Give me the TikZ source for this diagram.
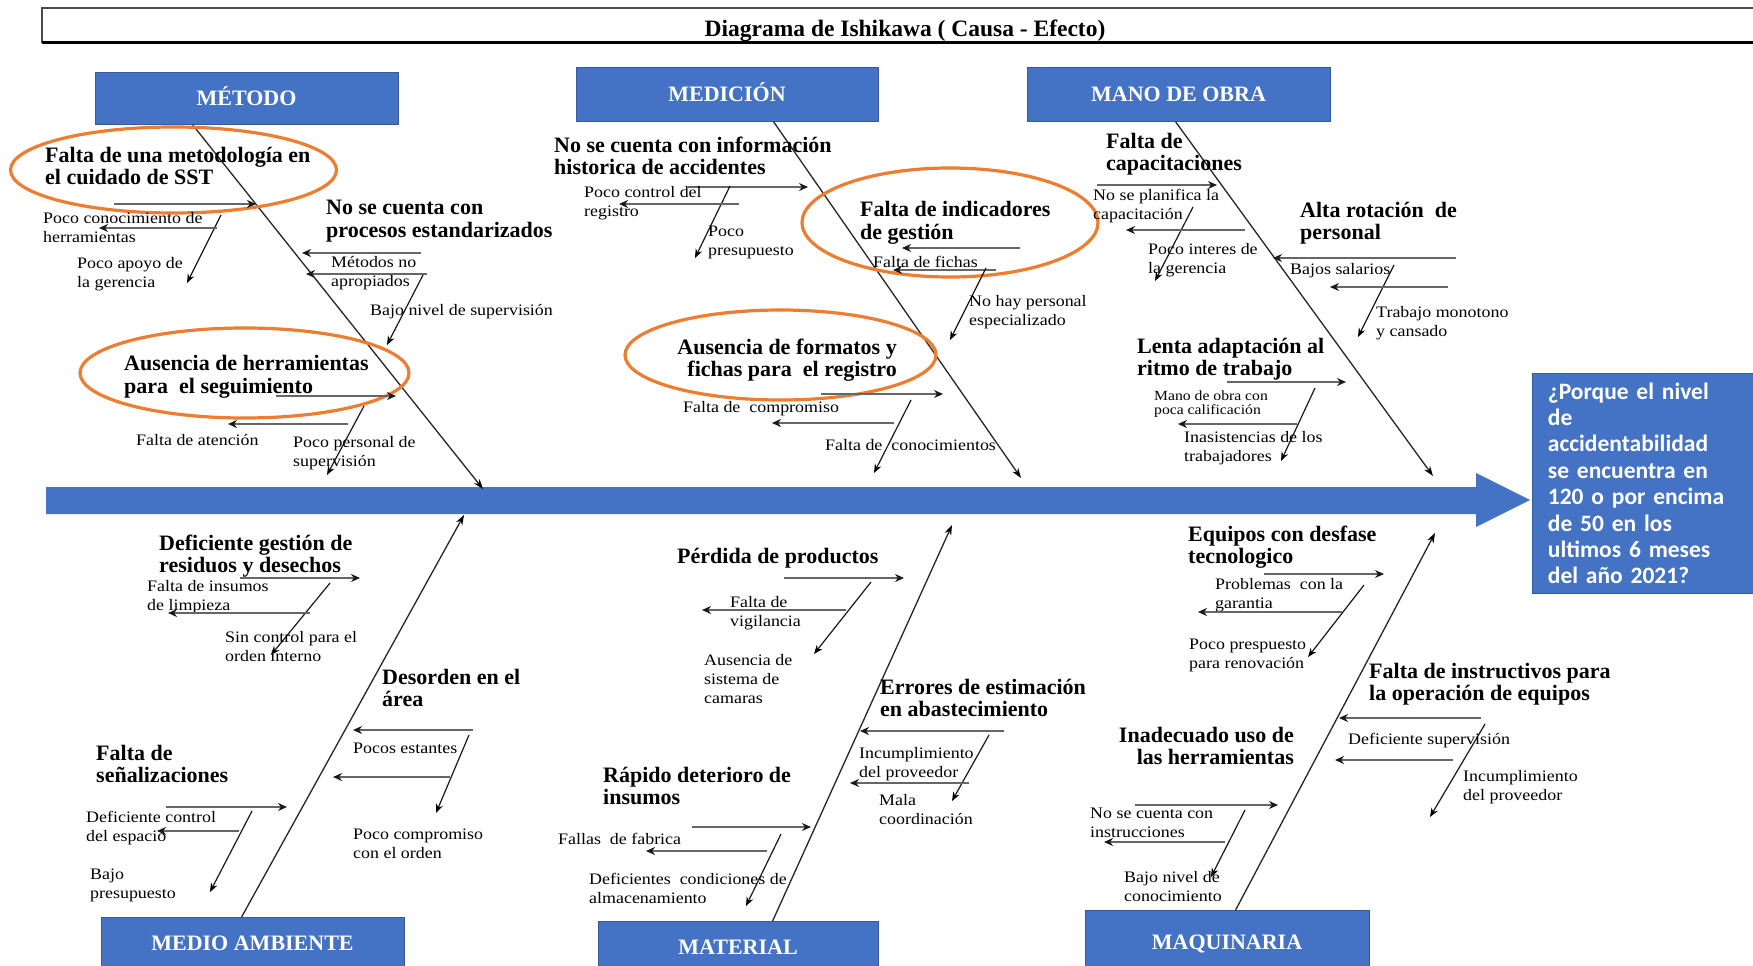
\documentclass[tikz,border=0pt]{standalone}
\usepackage{fontspec}
\setmainfont{Liberation Serif}
\newfontfamily\smallserif[FakeStretch=1.12]{Liberation Serif}
\newfontfamily\boxsans{Carlito}
\usetikzlibrary{arrows.meta,calc}

\definecolor{hblue}{HTML}{4472C4}
\definecolor{ringorange}{HTML}{ED7D31}

% one arrow between two named points
\newcommand\arrw[4]{\coordinate (#2a) at (#3); \coordinate (#2b) at (#4); \draw[#1] (#2a) -- (#2b);}

\tikzset{
  hdr/.style={rectangle, fill=hblue, draw=hblue!80!black, line width=0.8pt, text=white,
    font=\fontsize{22}{24}\selectfont\bfseries, text height=14.5pt, text depth=0pt,
    inner sep=0pt, anchor=north},
  cause/.style={font=\fontsize{22}{22.5}\selectfont\bfseries, align=left, anchor=west, inner sep=0pt},
  sub/.style={font=\smallserif\fontsize{16}{19}\selectfont, align=left, anchor=west, inner sep=0pt},
  tiny/.style={font=\smallserif\fontsize{14}{14.5}\selectfont, align=left, anchor=west, inner sep=0pt},
  bone/.style={draw=black!85, line width=1.3pt, -{Stealth[length=10pt,width=7pt,black]}},
  harrow/.style={draw=black!60, line width=2pt, -{Stealth[length=9pt,width=8pt,black!90]}},
  darrow/.style={draw=black!90, line width=1.2pt, -{Stealth[length=9pt,width=7pt,black]}},
  ring/.style={draw=ringorange, line width=3.2pt},
}

\begin{document}
\begin{tikzpicture}[x=1pt,y=-1pt]
\useasboundingbox (0,0) rectangle (1753,966);
\fill[white] (0,0) rectangle (1753,966);

% title frame
\draw[black!70, line width=1.5pt] (1760,8) -- (42,8) -- (42,43);
\draw[black, line width=3pt] (42,43) -- (1760,43);
\node[font=\fontsize{23.5}{26}\selectfont\bfseries] (title) at (905,31) {Diagrama de Ishikawa ( Causa - Efecto)};

% spine
\fill[hblue] (46,487) -- (1476,487) -- (1476,473) -- (1530,500) -- (1476,527) -- (1476,514) -- (46,514) -- cycle;

% effect
\node[rectangle, fill=hblue, draw=hblue!80!black, line width=0.8pt, text=white, anchor=north west,
  minimum width=221pt, minimum height=220pt, text width=190pt, inner xsep=15.5pt, inner ysep=0pt,
  align=left, font=\boxsans\bfseries\fontsize{23.5}{26.4}\selectfont] (question) at (1532,373)
  {¿Porque el nivel\\de\\accidentabilidad\\se encuentra en\\120 o por encima\\de 50 en los\\ultimos 6 meses\\del año 2021?};

% category headers
\node[hdr, minimum width=303pt, minimum height=52pt] (metodo) at (246.5,72) {MÉTODO};
\node[hdr, minimum width=302pt, minimum height=54pt] (medicion) at (727,67) {MEDICIÓN};
\node[hdr, minimum width=303pt, minimum height=54pt] (mano) at (1178.5,67) {MANO DE OBRA};
\node[hdr, minimum width=303pt, minimum height=52pt] (medio) at (252.5,917) {MEDIO AMBIENTE};
\node[hdr, minimum width=280pt, minimum height=52pt] (material) at (738,921) {MATERIAL};
\node[hdr, minimum width=284pt, minimum height=64pt] (maquinaria) at (1227,910) {MAQUINARIA};

% main bones
\coordinate (e1) at (483,489);
\coordinate (e2) at (1021,478);
\coordinate (e3) at (1433,476);
\coordinate (e4) at (464,515);
\coordinate (e5) at (952,525);
\coordinate (e6) at (1435,533);
\draw[bone] ($(metodo.south west)+(98,0)$) -- (e1);
\draw[bone] ($(medicion.south west)+(198,0)$) -- (e2);
\draw[bone] ($(mano.south west)+(149,0)$) -- (e3);
\draw[bone] ($(medio.north west)+(141,0)$) -- (e4);
\draw[bone] ($(material.north west)+(175,0)$) -- (e5);
\draw[bone] ($(maquinaria.north west)+(151,0)$) -- (e6);

% ---------- MÉTODO ----------
\draw[ring] (173.5,170) ellipse [x radius=163pt, y radius=43pt];
\node[cause] (m1) at (45,166) {Falta de una metodología en\\el cuidado de SST};
\arrw{harrow}{m1h}{114,204}{256,204}
\arrw{darrow}{m1d}{221,215}{187,283}
\arrw{harrow}{m1l}{217,228}{99,228}
\node[sub] (m1s1) at (43,228) {Poco conocimiento de\\herramientas};
\node[sub] (m1s2) at (77,274) {Poco apoyo de\\la gerencia};

\node[cause] (m2) at (326,221) {No se cuenta con\\procesos estandarizados};
\arrw{harrow}{m2h}{421,253}{302,253}
\arrw{harrow}{m2l}{427,274}{306,274}
\arrw{darrow}{m2d}{423,275}{387,345}
\node[sub] (m2s1) at (331,273) {Métodos no\\apropiados};
\node[sub] (m2s2) at (370,312) {Bajo nivel de supervisión};

\draw[ring] (244.5,373) ellipse [x radius=164.5pt, y radius=45pt];
\node[cause] (m3) at (124,377) {Ausencia de herramientas\\para~ el seguimiento};
\arrw{harrow}{m3h}{276,396}{396,396}
\arrw{darrow}{m3d}{364,406}{327,475}
\arrw{harrow}{m3l}{348,424}{228,424}
\node[sub] (m3s1) at (136,440) {Falta de atención};
\node[sub] (m3s2) at (293,453) {Poco personal de\\supervisión};

% ---------- MEDICIÓN ----------
\node[cause] (d1) at (554,156) {No se cuenta con información\\historica de accidentes};
\arrw{harrow}{d1h}{688,187}{808,187}
\arrw{darrow}{d1d}{730,186}{695,258}
\arrw{harrow}{d1l}{739,204}{619,204}
\node[sub] (d1s1) at (584,203) {Poco control del\\registro};
\node[sub] (d1s2) at (708,242) {Poco\\presupuesto};

\draw[ring] (950,222.5) ellipse [x radius=148pt, y radius=54.5pt];
\node[cause] (d2) at (860,223) {Falta de indicadores\\de gestión};
\arrw{harrow}{d2h}{1020,248}{902,248}
\node[sub] (d2s1) at (873,262) {Falta de fichas};
\arrw{harrow}{d2l}{996,270}{893,270}
\arrw{darrow}{d2d}{986,268}{950,340}
\node[sub] (d2s2) at (969,312) {No hay personal\\especializado};

\draw[ring] (780.5,355) ellipse [x radius=155.5pt, y radius=45pt];
\node[cause, anchor=east, align=right] (d3) at (897,360) {Ausencia de formatos y\\fichas para~ el registro};
\arrw{harrow}{d3h}{821,394}{943,394}
\arrw{darrow}{d3d}{911,400}{874,473}
\arrw{harrow}{d3l}{894,423}{772,423}
\node[sub] (d3s1) at (683,409) {Falta de~ compromiso};
\node[sub] (d3s2) at (825,445) {Falta de~ conocimientos};

% ---------- MANO DE OBRA ----------
\node[cause] (o1) at (1106,154) {Falta de\\capacitaciones};
\arrw{harrow}{o1h}{1097,185}{1217,185}
\node[sub] (o1s1) at (1093,206) {No se planifica la\\capacitación};
\arrw{darrow}{o1d}{1193,207}{1155,281}
\arrw{harrow}{o1l}{1245,230}{1126,230}
\node[sub] (o1s2) at (1148,260) {Poco interes de\\la gerencia};

\node[cause] (o2) at (1300,223) {Alta rotación~ de\\personal};
\arrw{harrow}{o2h}{1456,258}{1273,258}
\node[sub] (o2s1) at (1290,271) {Bajos salarios};
\arrw{darrow}{o2d}{1394,265}{1358,337}
\arrw{harrow}{o2l}{1448,287}{1330,287}
\node[sub] (o2s2) at (1376,323) {Trabajo monotono\\y cansado};

\node[cause] (o3) at (1137,359) {Lenta adaptación al\\ritmo de trabajo};
\arrw{harrow}{o3h}{1227,382}{1346,382}
\node[tiny] (o3s1) at (1154,404) {Mano de obra con\\poca calificación};
\arrw{darrow}{o3d}{1315,388}{1281,461}
\arrw{harrow}{o3l}{1297,424}{1178,424}
\node[sub] (o3s2) at (1184,448) {Inasistencias de los\\trabajadores};

% ---------- MEDIO AMBIENTE ----------
\node[cause] (a1) at (159,556) {Deficiente gestión de\\residuos y desechos};
\arrw{harrow}{a1h}{240,578}{360,578}
\node[sub] (a1s1) at (147,597) {Falta de insumos\\de limpieza};
\arrw{darrow}{a1d}{330,583}{271,655}
\arrw{harrow}{a1l}{310,613}{168,613}
\node[sub] (a1s2) at (225,647) {Sin control para el\\orden interno};

\node[cause] (a2) at (382,688) {Desorden en el\\área};
\arrw{harrow}{a2h}{473,730}{353,730}
\node[sub] (a2s1) at (353,748) {Pocos estantes};
\arrw{darrow}{a2d}{469,735}{436,813}
\arrw{harrow}{a2l}{450,777}{333,777}
\node[sub] (a2s2) at (353,844) {Poco compromiso\\con el orden};

\node[cause] (a3) at (96,764) {Falta de\\señalizaciones};
\arrw{harrow}{a3h}{166,807}{287,807}
\node[sub] (a3s1) at (86,828) {Deficiente control\\del espacio};
\arrw{darrow}{a3d}{252,811}{210,892}
\arrw{harrow}{a3l}{239,831}{157,831}
\node[sub] (a3s2) at (90,885) {Bajo\\presupuesto};

% ---------- MATERIAL ----------
\node[cause] (t1) at (677,558) {Pérdida de productos};
\arrw{harrow}{t1h}{784,578}{904,578}
\arrw{darrow}{t1d}{871,582}{814,654}
\arrw{harrow}{t1l}{846,610}{702,610}
\node[sub] (t1s1) at (730,613) {Falta de\\vigilancia};
\node[sub] (t1s2) at (704,679) {Ausencia de\\sistema de\\camaras};

\node[cause] (t2) at (880,698) {Errores de estimación\\en abastecimiento};
\arrw{harrow}{t2h}{1004,731}{860,731}
\node[sub] (t2s1) at (859,764) {Incumplimiento\\del proveedor};
\arrw{darrow}{t2d}{989,735}{952,801}
\arrw{harrow}{t2l}{969,783}{850,783}
\node[sub] (t2s2) at (879,810) {Mala\\coordinación};

\node[cause] (t3) at (603,786) {Rápido deterioro de\\insumos};
\arrw{harrow}{t3h}{692,827}{811,827}
\node[sub] (t3s1) at (558,839) {Fallas~ de fabrica};
\arrw{harrow}{t3l}{767,851}{646,851}
\arrw{darrow}{t3d}{781,834}{746,906}
\node[sub] (t3s2) at (589,888) {Deficientes~ condiciones de\\almacenamiento};

% ---------- MAQUINARIA ----------
\node[cause] (q1) at (1188,547) {Equipos con desfase\\tecnologico};
\arrw{harrow}{q1h}{1264,574}{1384,574}
\node[sub] (q1s1) at (1215,595) {Problemas~ con la\\garantia};
\arrw{darrow}{q1d}{1364,585}{1308,657}
\arrw{harrow}{q1l}{1342,612}{1198,612}
\node[sub] (q1s2) at (1189,655) {Poco prespuesto\\para renovación};

\node[cause] (q2) at (1369,684) {Falta de instructivos para\\la operación de equipos};
\arrw{harrow}{q2h}{1481,718}{1339,718}
\node[sub] (q2s1) at (1348,741) {Deficiente supervisión};
\arrw{darrow}{q2d}{1485,724}{1430,817}
\arrw{harrow}{q2l}{1453,760}{1335,760}
\node[sub] (q2s2) at (1463,787) {Incumplimiento\\del proveedor};

\node[cause, anchor=east, align=right] (q3) at (1294,746) {Inadecuado uso de\\las herramientas};
\arrw{harrow}{q3h}{1135,805}{1278,805}
\node[sub] (q3s1) at (1090,823) {No se cuenta con\\instrucciones};
\arrw{darrow}{q3d}{1245,810}{1211,877}
\arrw{harrow}{q3l}{1225,842}{1104,842}
\node[sub] (q3s2) at (1124,887) {Bajo nivel de\\conocimiento};

\end{tikzpicture}
\end{document}
